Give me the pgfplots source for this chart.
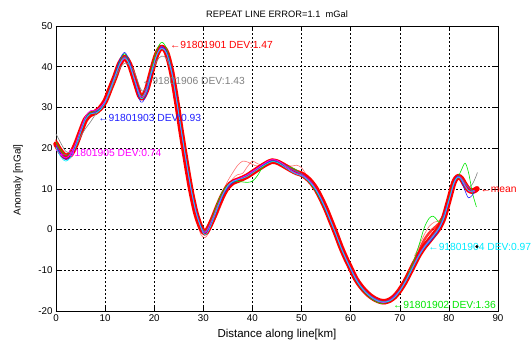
\documentclass[border=0pt]{standalone}
\usepackage{pgfplots}
\pgfplotsset{compat=1.18}
\usepackage{pgfplotstable}
\usepackage{fontspec}
\setmainfont{Liberation Sans}
\definecolor{mred}{RGB}{255,0,0}
\definecolor{mgreen}{RGB}{0,230,0}
\definecolor{mblue}{RGB}{30,30,255}
\definecolor{mgray}{RGB}{128,128,128}
\definecolor{mmag}{RGB}{255,0,255}
\definecolor{mcyan}{RGB}{0,235,255}
\definecolor{mviol}{RGB}{120,40,230}

\pgfplotstableread{
x y
0 21.0
1 19.0
2 17.8
3 18.5
4 20.8
5 24.0
6 27.0
7 28.3
8 28.8
9 29.8
10 31.5
11 34.5
12 37.5
13 40.8
14 42.3
15 40.5
16 36.8
17 33.0
17.6 32.4
18.5 34.5
19.5 39.0
20.5 43.0
21.5 44.8
22.5 43.5
23.5 39.0
24.5 32.0
25.5 24.0
26.5 16.5
27.5 9.5
28.5 4.0
29.5 0.5
30.3 -0.8
31 0.2
32 2.8
33 5.8
34 8.5
35 10.5
36 11.6
37 12.1
38 12.6
39 13.2
40 14.0
41 14.8
42 15.6
43 16.3
44 16.8
45 16.6
46 16.0
47 15.3
48 14.6
49 14.0
50 13.6
51 12.8
52 11.6
53 9.9
54 7.6
55 5.0
56 2.0
57 -1.0
58 -4.2
59 -7.0
60 -9.5
61 -12.0
62 -13.8
63 -15.2
64 -16.3
65 -17.1
66 -17.6
67 -17.7
68 -17.3
69 -16.4
70 -14.9
71 -13.0
72 -10.7
73 -8.3
74 -6.0
75 -4.2
76 -2.7
77 -1.2
78 0.4
79 3.0
80 7.2
81 11.5
81.8 13.0
82.5 12.6
83.3 11.0
84 9.8
84.8 9.4
85.5 9.8
}\meantab

\begin{document}
\begin{tikzpicture}
\path[use as bounding box] (-56pt,-34pt) rectangle (475pt,311pt);
\begin{axis}[
  at={(0,0)}, anchor=south west,
  scale only axis, width=442pt, height=285pt,
  xmin=0, xmax=90, ymin=-20, ymax=50,
  xtick={0,10,...,90}, ytick={-20,-10,...,50},
  grid=major,
  grid style={black, line width=0.5pt, dash pattern=on 2pt off 2pt},
  tick align=inside, major tick length=4pt,
  axis line style={black, line width=0.6pt},
  tick style={black, line width=0.5pt},
  ticklabel style={font=\fontsize{9.8}{11}\selectfont},
  /pgf/number format/assume math mode=true,
  clip=false,
  every axis plot/.append style={line join=round, line cap=round},
]
% mean band
\addplot[mred, line width=5.5pt, smooth] table[x=x,y=y] {\meantab};

% thin red repeats
\addplot[mred, opacity=0.55, line width=0.6pt, smooth] coordinates {(33,6.5)(34,9.5)(35,12)(36,14)(37,15.8)(38,16.8)(39,16.6)(40,16)(41,15.6)(42,16.2)(43,17)(44,17.4)(45,17)(46,16.2)};
\addplot[mred, opacity=0.55, line width=0.6pt, smooth] coordinates {(34,7.5)(35,10)(36,12.5)(37,13.5)(38,13.8)(39,15.5)(40,16.8)(41,16.2)(42,15.8)};
\addplot[mred, opacity=0.55, line width=0.6pt, smooth] coordinates {(46,16.2)(47,15.8)(48,15.6)(49,15.8)(50,15.2)(51,13.4)(52,11.8)};
\addplot[mred, opacity=0.55, line width=0.6pt, smooth] coordinates {(73,-6.5)(74,-3.8)(75,-1.2)(76,0.8)(77,1.8)(78,2.2)(79,3.8)(80,7.6)};
\addplot[mred, opacity=0.8, line width=2.5pt, smooth] coordinates {(74,-5)(75,-2.5)(76,-0.8)(77,0.4)(78,1.5)(79,3.6)};
\addplot[mred, opacity=0.55, line width=0.6pt, smooth] coordinates {(28.5,2.5)(29.5,-1.2)(30.3,-2)(31,-1)(32,1.5)(33,4)(34,7)(35,9.8)};
\addplot[mred, opacity=0.8, line width=1.5pt, smooth] coordinates {(0,22)(1,20)(2,18.6)(3,19.3)(4,21.5)};
\addplot[mred, opacity=0.55, line width=0.6pt, smooth] coordinates {(62,-14.6)(63,-16)(64,-17)(65,-17.6)(66,-18.2)(67,-18.3)(68,-17.8)};
\addplot[mred, opacity=0.8, line width=1.5pt, smooth] coordinates {(82.5,12)(83.3,10.5)(84,9.5)(84.8,10)(85.5,10.2)};

% gray 91801906
\addplot[mgray, line width=0.6pt, smooth] coordinates {(0,23.5)(1,21.2)(2,19.2)(3,19)(4,20.4)(5,22.8)(6,24.8)(7,26.4)(8,28.2)(9,29.5)(10,31.2)(11,33.8)(12,36.8)(13,39.6)(14,40.9)(15,40.4)(16,38.6)(17,35.2)(17.6,34)(18.5,35)(19.5,38.4)(20.5,41.4)(21.5,42.6)(22.5,42)(23.5,38.6)(24.5,32.3)(25.5,24.6)(26.5,17)(27.5,10)(28.5,4.4)(29.5,0.9)(30.3,-0.5)(31,0.5)(32,3.2)(33,6.2)(34,8.8)(35,10.6)(36,11.6)(37,12.2)(38,12.8)(39,13.4)(40,14.2)(41,15)(42,15.8)(43,16.4)(44,16.8)(45,16.6)(46,16)(47,15.4)(48,14.8)(49,14.2)(50,13.6)(51,12.6)(52,11.3)(53,9.6)(54,7.3)(55,4.7)(56,1.8)(57,-1.2)(58,-4.3)(59,-7.1)(60,-9.6)(61,-12)(62,-13.8)(63,-15.2)(64,-16.3)(65,-17.1)(66,-17.6)(67,-17.7)(68,-17.3)(69,-16.4)(70,-14.9)(71,-13)(72,-10.6)(73,-8.2)(74,-5.9)(75,-4)(76,-2.5)(77,-1)(78,0.6)(79,3.2)(80,7.4)(81,11.6)(81.8,13.1)(82.5,12.8)(83.3,11.4)(84,10.4)(84.8,11.2)(85.5,13)(85.8,14)};

% green 91801902
\addplot[mgreen, line width=0.6pt, smooth] coordinates {(0,21.5)(1,19.5)(2,18.2)(3,18.8)(4,21)(5,24.5)(6,27.5)(7,28.8)(8,29)(9,29.8)(10,31.5)(11,34.8)(12,38)(13,41.5)(14,43.2)(15,41)(16,37)(17,33.5)(17.6,32.8)(18.5,35)(19.5,39.8)(20.5,44)(21.5,46)(22.5,44.5)(23.5,39.5)(24.5,32.5)(25.5,24.5)(26.5,17)(27.5,10)(28.5,4.5)(29.5,0.8)(30.3,-0.5)(31,0.5)(32,3.5)(33,7)(34,9.5)(35,11)(36,11.6)(37,11.8)(38,11.7)(39,11.6)(40,11.9)(41,13.2)(42,15.2)(43,16.2)(44,16.8)(45,16.7)(46,16.2)(47,15.6)(48,15.2)(49,14.6)(50,13.5)(51,12.3)(52,11)(53,9.2)(54,7)(55,4.5)(56,1.6)(57,-1.4)(58,-4.6)(59,-7.3)(60,-9.8)(61,-12.3)(62,-14.2)(63,-15.6)(64,-16.8)(65,-17.6)(66,-18.1)(67,-18)(68,-17.5)(69,-16.5)(70,-14.8)(71,-12.7)(72,-10.2)(73,-7.2)(74,-3.5)(75,0.5)(76,2.8)(76.8,3.3)(77.5,2.5)(78,1.8)(79,3.5)(80,7.5)(81,11.5)(81.8,12.8)(82.5,14.5)(83.3,16.3)(84,14)(84.8,9)(85.6,5.6)};

% blue 91801903
\addplot[mblue, line width=0.6pt, smooth] coordinates {(0,20.5)(1,18.5)(2,17.2)(3,18)(4,20.5)(5,24)(6,27.2)(7,28.5)(8,28.8)(9,29.5)(10,31.2)(11,34.5)(12,38)(13,41.8)(14,43.5)(15,41.2)(16,36.5)(17,32)(17.6,31.3)(18.5,33.5)(19.5,38.5)(20.5,42.8)(21.5,44.8)(22.5,43.8)(23.5,39.5)(24.5,32.5)(25.5,24.5)(26.5,17)(27.5,10)(28.5,4.5)(29.5,0.8)(30.3,-0.8)(31,0)(32,2.5)(33,5.5)(34,8.3)(35,10.3)(36,11.5)(37,12.2)(38,12.8)(39,13.5)(40,14.3)(41,15)(42,15.7)(43,16.4)(44,16.9)(45,16.6)(46,15.9)(47,15.1)(48,14.4)(49,13.8)(50,13.3)(51,12.5)(52,11.2)(53,9.5)(54,7.2)(55,4.6)(56,1.7)(57,-1.3)(58,-4.4)(59,-7.2)(60,-9.8)(61,-12.2)(62,-14)(63,-15.4)(64,-16.5)(65,-17.3)(66,-17.8)(67,-17.9)(68,-17.5)(69,-16.5)(70,-15)(71,-13.2)(72,-11)(73,-8.6)(74,-6.3)(75,-4.5)(76,-3.2)(77,-1.8)(78,0)(79,2.8)(80,7)(81,11.5)(81.8,13.2)(82.5,12.2)(83.3,9.5)(84,7.8)(84.8,8.5)(85.5,10)};

% violet
\addplot[mviol, line width=0.6pt, smooth] coordinates {(0,20.8)(2,17.6)(4,20.9)(6,27.3)(8,29)(10,31.6)(12,37.7)(14,42.5)(16,36.9)(17.6,32.5)(19.5,39.2)(21.5,45)(23.5,39.2)(25.5,24.2)(27.5,9.7)(29.5,0.6)(30.3,-0.9)(32,2.9)(34,8.7)(36,11.8)(38,12.8)(40,14.2)(42,15.9)(44,17.1)(46,16.3)(48,14.8)(50,13.7)(52,11.7)(54,7.7)(56,2.1)(58,-4.1)(60,-9.4)(62,-13.7)(64,-16.2)(66,-17.5)(67,-17.6)(68,-17.2)(70,-14.8)(72,-10.6)(74,-5.9)(76,-2.6)(78,0.5)(80,7.3)(81.8,13.1)(83.3,11.1)(84.8,9.5)(85.5,9.9)};

% magenta 91801905
\addplot[mmag, line width=0.6pt, smooth] coordinates {(0,19.6)(1,18.3)(2,17.6)(3,18.6)(4,21.2)(5,24.6)(6,27.8)(7,29.2)(8,29.3)(9,30)(10,31.6)(11,34.4)(12,37.6)(13,40.6)(14,42)(15,40.6)(16,37)(17,33.2)(17.6,32.6)(18.5,34.6)(19.5,39)(20.5,42.9)(21.5,44.6)(22.5,43.4)(23.5,39)(24.5,32)(25.5,24.2)(26.5,16.8)(27.5,9.8)(28.5,4.2)(29.5,0.6)(30.3,-0.7)(31,0.3)(32,3)(33,6)(34,8.8)(35,10.8)(36,11.9)(37,12.4)(38,12.9)(39,13.5)(40,14.3)(41,15.1)(42,15.9)(43,16.7)(44,17.2)(45,17)(46,16.3)(47,15.3)(48,14.4)(49,13.8)(50,13.4)(51,12.6)(52,11.4)(53,9.7)(54,7.4)(55,4.8)(56,1.8)(57,-1.2)(58,-4.4)(59,-7.2)(60,-9.7)(61,-12.1)(62,-14)(63,-15.4)(64,-16.5)(65,-17.3)(66,-17.8)(67,-17.9)(68,-17.4)(69,-16.5)(70,-15)(71,-13.1)(72,-10.8)(73,-8.4)(74,-6.1)(75,-4.3)(76,-2.8)(77,-1.3)(78,0.3)(79,2.9)(80,7)(81,11.3)(81.8,12.9)(82.5,12.5)(83.3,10.8)(84,9.5)(84.8,9.2)(85.5,9.6)};

% cyan 91801904
\addplot[mcyan, line width=0.6pt, smooth] coordinates {(0,20.2)(1,17.8)(2,16.8)(3,17.8)(4,20.4)(5,23.8)(6,27)(7,28.4)(8,28.6)(9,29.4)(10,31.2)(11,34.2)(12,37.4)(13,40.8)(14,42.2)(15,40.4)(16,36.6)(17,32.8)(17.6,32.2)(18.5,34.2)(19.5,38.8)(20.5,42.8)(21.5,44.5)(22.5,43.3)(23.5,39)(24.5,32.2)(25.5,24.4)(26.5,17)(27.5,10)(28.5,4.3)(29.5,0.5)(30.3,-1.3)(31,-0.4)(32,2.4)(33,5.6)(34,8.6)(35,10.8)(36,11.8)(37,12.2)(38,12.6)(39,13.1)(40,13.9)(41,14.7)(42,15.5)(43,16.2)(44,16.7)(45,16.5)(46,15.8)(47,15)(48,14.2)(49,13.6)(50,13.2)(51,12.4)(52,11.2)(53,9.6)(54,7.4)(55,4.8)(56,1.9)(57,-1.1)(58,-4.3)(59,-7.1)(60,-9.6)(61,-12.1)(62,-13.9)(63,-15.3)(64,-16.4)(65,-17.2)(66,-17.7)(67,-17.8)(68,-17.5)(69,-16.6)(70,-15.1)(71,-13.2)(72,-10.9)(73,-8.5)(74,-6.3)(75,-4.4)(76,-2.9)(77,-1.4)(78,0.3)(79,2.9)(80,7.1)(81,11.4)(81.8,12.9)(82.5,12.3)(83.3,10.6)(84,9.6)(84.8,9.4)(85.5,9.9)};

% end markers
\addplot[only marks, mark=*, mark size=2.6pt, mred] coordinates {(85.7,10)};
\addplot[only marks, mark=*, mark size=1.3pt, black] coordinates {(85.7,-4.2)};

% labels
\begin{scope}[every node/.style={font=\fontsize{10.3}{12}\selectfont, inner sep=0pt, anchor=west}]
\node[text=mred] at (axis cs:23.2,45.4) {←91801901 DEV:1.47};
\node[text=mgray] at (axis cs:17.5,36.4) {←91801906 DEV:1.43};
\node[text=mblue] at (axis cs:8.6,27.5) {←91801903 DEV:0.93};
\node[text=mmag] at (axis cs:0.5,18.7) {←91801905 DEV:0.74};
\node[text=mgreen] at (axis cs:68.6,-18.5) {←91801902 DEV:1.36};
\node[text=mcyan] at (axis cs:75.8,-4.2) {←91801904 DEV:0.97};
\node[text=mred] at (axis cs:86.4,9.7) {←mean};
\end{scope}

\node[font=\fontsize{9.3}{11}\selectfont] at ([yshift=12pt]rel axis cs:0.5,1) {REPEAT LINE ERROR=1.1\ \ mGal};
\node[font=\fontsize{11.5}{13}\selectfont] at ([yshift=-24pt]rel axis cs:0.5,0) {Distance along line[km]};
\node[font=\fontsize{10}{12}\selectfont, rotate=90] at ([xshift=-38pt]rel axis cs:0,0.46) {Anomaly [mGal]};
\end{axis}
\end{tikzpicture}
\end{document}
